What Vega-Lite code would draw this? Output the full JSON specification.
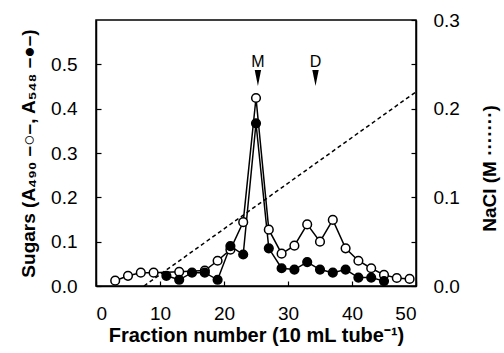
{
  "$schema": "https://vega.github.io/schema/vega-lite/v6.json",
  "width": 320,
  "height": 266,
  "autosize": "none",
  "padding": {"left": 96, "top": 20, "right": 88, "bottom": 67},
  "background": "white",
  "config": {
    "view": {"stroke": "black", "strokeWidth": 1.5},
    "font": "Liberation Sans",
    "axis": {
      "domainColor": "black", "domainWidth": 1.5,
      "tickColor": "black", "tickWidth": 1.2, "tickSize": -5,
      "grid": false,
      "labelFont": "Liberation Sans", "labelFontSize": 19, "labelColor": "black",
      "titleFont": "Liberation Sans", "titleFontSize": 19, "titleFontWeight": "bold", "titleColor": "black"
    }
  },
  "datasets": {
    "sugar": [
      {"f": 3, "s": "A490", "v": 0.012},
      {"f": 5, "s": "A490", "v": 0.023},
      {"f": 7, "s": "A490", "v": 0.03},
      {"f": 9, "s": "A490", "v": 0.03},
      {"f": 13, "s": "A490", "v": 0.032},
      {"f": 17, "s": "A490", "v": 0.035},
      {"f": 19, "s": "A490", "v": 0.057},
      {"f": 21, "s": "A490", "v": 0.082},
      {"f": 23, "s": "A490", "v": 0.144},
      {"f": 25, "s": "A490", "v": 0.424},
      {"f": 27, "s": "A490", "v": 0.127},
      {"f": 29, "s": "A490", "v": 0.073},
      {"f": 31, "s": "A490", "v": 0.091},
      {"f": 33, "s": "A490", "v": 0.139},
      {"f": 35, "s": "A490", "v": 0.1},
      {"f": 37, "s": "A490", "v": 0.149},
      {"f": 39, "s": "A490", "v": 0.085},
      {"f": 41, "s": "A490", "v": 0.057},
      {"f": 43, "s": "A490", "v": 0.04},
      {"f": 45, "s": "A490", "v": 0.025},
      {"f": 47, "s": "A490", "v": 0.018},
      {"f": 49, "s": "A490", "v": 0.016},
      {"f": 11, "s": "A548", "v": 0.023},
      {"f": 13, "s": "A548", "v": 0.014},
      {"f": 15, "s": "A548", "v": 0.03},
      {"f": 17, "s": "A548", "v": 0.03},
      {"f": 19, "s": "A548", "v": 0.014},
      {"f": 21, "s": "A548", "v": 0.09},
      {"f": 23, "s": "A548", "v": 0.071},
      {"f": 25, "s": "A548", "v": 0.367},
      {"f": 27, "s": "A548", "v": 0.085},
      {"f": 29, "s": "A548", "v": 0.04},
      {"f": 31, "s": "A548", "v": 0.037},
      {"f": 33, "s": "A548", "v": 0.054},
      {"f": 35, "s": "A548", "v": 0.037},
      {"f": 37, "s": "A548", "v": 0.03},
      {"f": 39, "s": "A548", "v": 0.037},
      {"f": 41, "s": "A548", "v": 0.019},
      {"f": 43, "s": "A548", "v": 0.019},
      {"f": 45, "s": "A548", "v": 0.011}
    ],
    "nacl": [
      {"f": 7.5, "nacl": 0},
      {"f": 50, "nacl": 0.219}
    ],
    "marks": [
      {"f": 25.3, "label": "M", "tv": 0.505, "av": 0.469},
      {"f": 34.3, "label": "D", "tv": 0.505, "av": 0.469}
    ]
  },
  "layer": [
    {
      "layer": [
        {
          "data": {"name": "sugar"},
          "mark": {"type": "line", "color": "black", "strokeWidth": 1.5},
          "encoding": {
            "x": {"field": "f", "type": "quantitative", "scale": {"domain": [0, 50]},
              "axis": {"values": [0,5,10,15,20,25,30,35,40,45,50], "labelExpr": "datum.value % 10 == 0 ? datum.label : ''", "labelPadding": 23, "title": "Fraction number (10 mL tube⁻¹)", "titleFontSize": 20, "titlePadding": 2}},
            "y": {"field": "v", "type": "quantitative", "scale": {"domain": [0, 0.552]},
              "axis": {"values": [0, 0.1, 0.2, 0.3, 0.4, 0.5], "format": ".1f", "labelPadding": 24, "title": "Sugars (A₄₉₀ –○–, A₅₄₈ –●–)", "titlePadding": 12}},
            "detail": {"field": "s"}
          }
        },
        {
          "data": {"name": "sugar"},
          "mark": {"type": "point", "shape": "circle", "filled": true, "size": 75, "stroke": "black", "strokeWidth": 1.5, "opacity": 1},
          "encoding": {
            "x": {"field": "f", "type": "quantitative"},
            "y": {"field": "v", "type": "quantitative"},
            "fill": {"field": "s", "type": "nominal", "scale": {"domain": ["A490", "A548"], "range": ["white", "black"]}, "legend": null}
          }
        },
        {
          "data": {"name": "marks"},
          "mark": {"type": "point", "shape": "M-0.4,-1L0.4,-1L0,1Z", "filled": true, "size": 256, "color": "black", "opacity": 1},
          "encoding": {
            "x": {"field": "f", "type": "quantitative"},
            "y": {"field": "av", "type": "quantitative"}
          }
        },
        {
          "data": {"name": "marks"},
          "mark": {"type": "text", "fontSize": 16, "font": "Liberation Sans", "color": "black", "baseline": "middle"},
          "encoding": {
            "x": {"field": "f", "type": "quantitative"},
            "y": {"field": "tv", "type": "quantitative"},
            "text": {"field": "label"}
          }
        }
      ]
    },
    {
      "data": {"name": "nacl"},
      "mark": {"type": "line", "color": "black", "strokeWidth": 1.5, "strokeDash": [4, 3]},
      "encoding": {
        "x": {"field": "f", "type": "quantitative"},
        "y": {"field": "nacl", "type": "quantitative", "scale": {"domain": [0, 0.3]},
          "axis": {"orient": "right", "values": [0, 0.05, 0.1, 0.15, 0.2, 0.25, 0.3], "labelExpr": "round(datum.value*100) % 10 == 0 ? format(datum.value, '.1f') : ''", "labelPadding": 22, "title": "NaCl (M ·······)", "titleAngle": -90, "titleY": 148, "titlePadding": 40}}
      }
    }
  ],
  "resolve": {"scale": {"y": "independent"}}
}
